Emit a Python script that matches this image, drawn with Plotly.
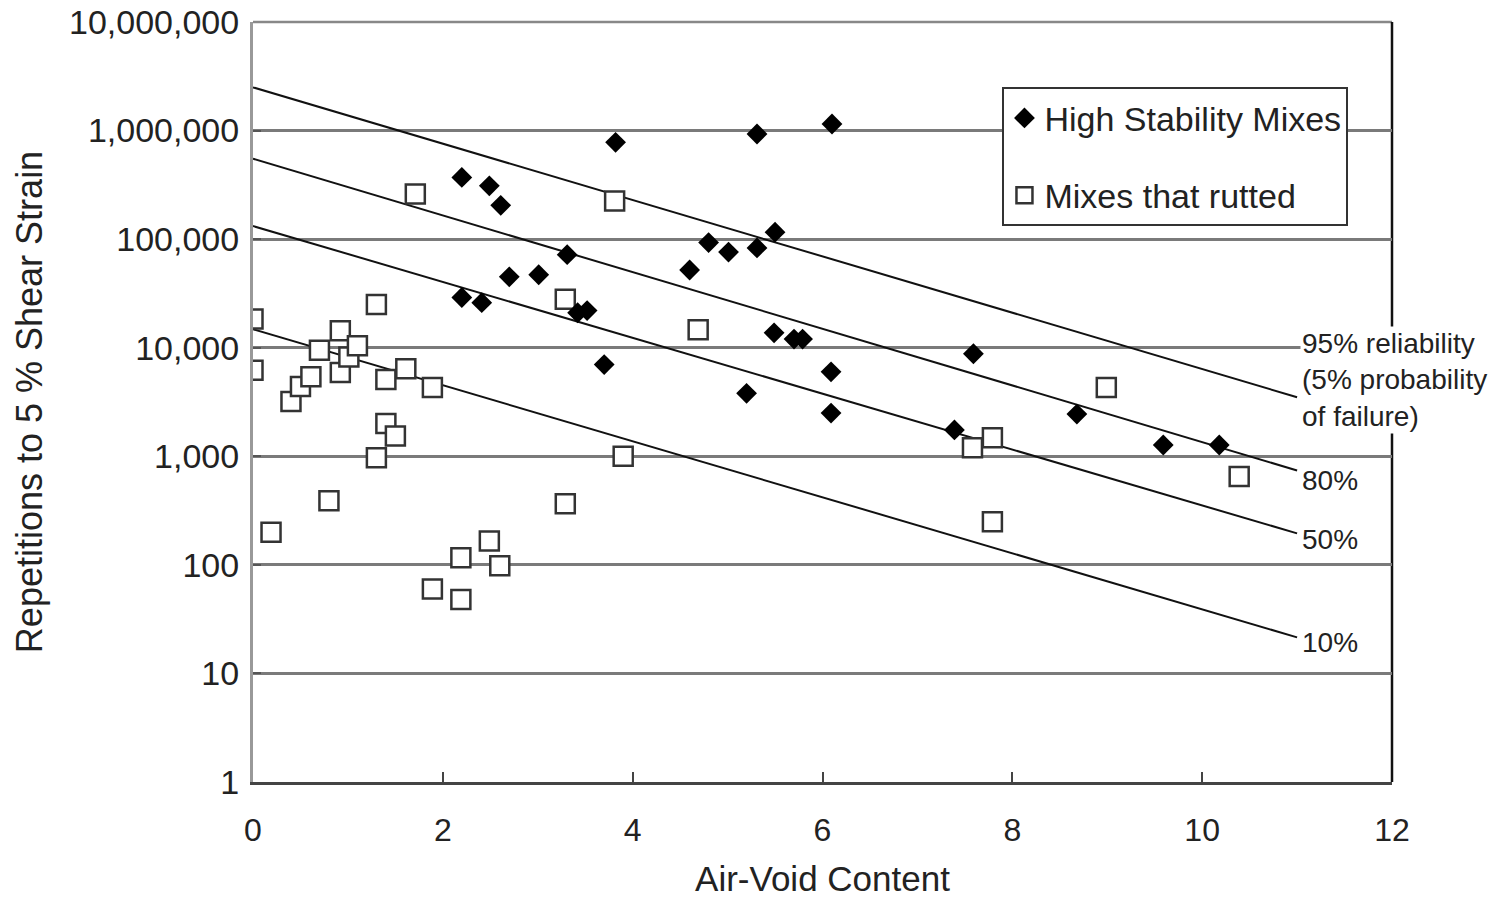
import plotly.graph_objects as go

# High Stability Mixes (diamonds): air-void content, repetitions
hs_x = [2.2, 2.49, 2.61, 2.2, 2.41, 2.7, 3.01, 3.31, 3.42, 3.52, 3.7, 3.82,
        4.6, 4.8, 5.01, 5.31, 5.31, 5.5, 5.49, 5.7, 5.79, 5.2, 6.09, 6.09,
        6.1, 7.39, 7.59, 8.68, 9.59, 10.18]
hs_y = [3.7e5, 3.1e5, 2.05e5, 2.9e4, 2.6e4, 4.5e4, 4.7e4, 7.2e4, 2.1e4, 2.2e4,
        7.0e3, 7.8e5, 5.2e4, 9.3e4, 7.6e4, 8.3e4, 9.3e5, 1.16e5, 1.37e4, 1.2e4,
        1.2e4, 3.8e3, 6.0e3, 2.5e3, 1.15e6, 1.75e3, 8.8e3, 2.45e3, 1.27e3, 1.27e3]

# Mixes that rutted (open squares)
rut_x = [0.0, 0.0, 0.19, 0.4, 0.5, 0.61, 0.7, 0.8, 0.92, 0.92, 1.01, 1.1,
         1.3, 1.3, 1.4, 1.4, 1.5, 1.61, 1.71, 1.89, 1.89, 2.19, 2.19, 2.49,
         2.6, 3.29, 3.29, 3.81, 3.9, 4.69, 7.58, 7.79, 7.79, 8.99, 10.39]
rut_y = [1.84e4, 6.2e3, 200, 3.2e3, 4.4e3, 5.4e3, 9.5e3, 390, 1.43e4, 5.9e3,
         8.2e3, 1.04e4, 2.5e4, 970, 5.1e3, 2.0e3, 1.54e3, 6.4e3, 2.6e5, 4.3e3,
         60, 116, 48, 166, 98, 2.8e4, 365, 2.25e5, 1.0e3, 1.46e4, 1.2e3,
         1.48e3, 250, 4.3e3, 650]

# Reliability lines (end points)
line_x = [0, 11]
rel_95 = [2.5e6, 3.5e3]
rel_80 = [5.5e5, 740]
rel_50 = [1.32e5, 195]
rel_10 = [1.48e4, 21.5]

y_tickvals = [1, 10, 100, 1000, 10000, 100000, 1000000, 10000000]
y_ticktext = ["1", "10", "100", "1,000", "10,000", "100,000", "1,000,000", "10,000,000"]
x_tickvals = [0, 2, 4, 6, 8, 10, 12]

FONT = "Liberation Sans, Arial, sans-serif"
TXT = "#222222"

fig = go.Figure()
for ys in (rel_95, rel_80, rel_50, rel_10):
    fig.add_trace(go.Scatter(x=line_x, y=ys, mode="lines",
                             line=dict(color="#111111", width=2),
                             showlegend=False, hoverinfo="skip"))

fig.add_trace(go.Scatter(x=rut_x, y=rut_y, mode="markers", name="Mixes that rutted",
                         legendgroup="b", legendrank=2,
                         marker=dict(symbol="square", size=19, color="white",
                                     line=dict(color="#333333", width=2.5))))
fig.add_trace(go.Scatter(x=hs_x, y=hs_y, mode="markers", name="High Stability Mixes",
                         legendgroup="a", legendrank=1,
                         marker=dict(symbol="diamond", size=16, color="black",
                                     line=dict(width=0))))

ann_font = dict(family=FONT, size=28, color=TXT)
fig.add_annotation(x=11.0, y=3.70, xref="x", yref="y", xanchor="left", yanchor="middle",
                   text="95% reliability<br>(5% probability<br>of failure)", align="left",
                   showarrow=False, bgcolor="white", font=ann_font, xshift=3)
fig.add_annotation(x=11.0, y=2.773, xref="x", yref="y", xanchor="left", yanchor="middle",
                   text="80%", showarrow=False, font=ann_font, xshift=3)
fig.add_annotation(x=11.0, y=2.23, xref="x", yref="y", xanchor="left", yanchor="middle",
                   text="50%", showarrow=False, font=ann_font, xshift=3)
fig.add_annotation(x=11.0, y=1.282, xref="x", yref="y", xanchor="left", yanchor="middle",
                   text="10%", showarrow=False, font=ann_font, xshift=3)

# top and right border of the plot frame
fig.add_shape(type="line", xref="paper", yref="paper", x0=0, x1=1, y0=1, y1=1,
              line=dict(color="#888888", width=2.5), layer="below")
fig.add_shape(type="line", xref="paper", yref="paper", x0=1, x1=1, y0=0, y1=1,
              line=dict(color="#111111", width=2.5), layer="below")

fig.update_layout(
    width=1503, height=898,
    margin=dict(l=253, r=111, t=22, b=116),
    paper_bgcolor="white", plot_bgcolor="white",
    showlegend=True,
    legend=dict(x=0.658, y=0.914, xanchor="left", yanchor="top",
                bgcolor="white", bordercolor="#333333", borderwidth=2,
                font=dict(family=FONT, size=34, color=TXT),
                tracegroupgap=30, itemwidth=30),
    xaxis=dict(range=[0, 12], tickvals=x_tickvals, ticks="inside", ticklen=10,
               tickwidth=1.5, tickcolor="#444444", showgrid=False, zeroline=False,
               showline=True, linecolor="#444444", linewidth=3, automargin=False,
               tickfont=dict(family=FONT, size=32, color=TXT),
               ticklabelstandoff=18,
               title=dict(text="Air-Void Content", standoff=22,
                          font=dict(family=FONT, size=35, color=TXT))),
    yaxis=dict(type="log", range=[0, 7], tickvals=y_tickvals, ticktext=y_ticktext,
               ticks="inside", ticklen=8, tickwidth=1.5, tickcolor="#555555",
               showgrid=True, gridcolor="#7a7a7a", gridwidth=2.5, zeroline=False,
               showline=True, linecolor="#999999", linewidth=3, automargin=False,
               tickfont=dict(family=FONT, size=34, color=TXT),
               ticklabelstandoff=4, ticklabeloverflow="allow",
               title=dict(text="Repetitions to 5 % Shear Strain", standoff=16,
                          font=dict(family=FONT, size=36, color=TXT))),
)

# remove the default 8px page margin so the figure fills the window exactly
fig.write_html("out.html", config={"displayModeBar": False},
               post_script="document.body.style.margin='0';")
